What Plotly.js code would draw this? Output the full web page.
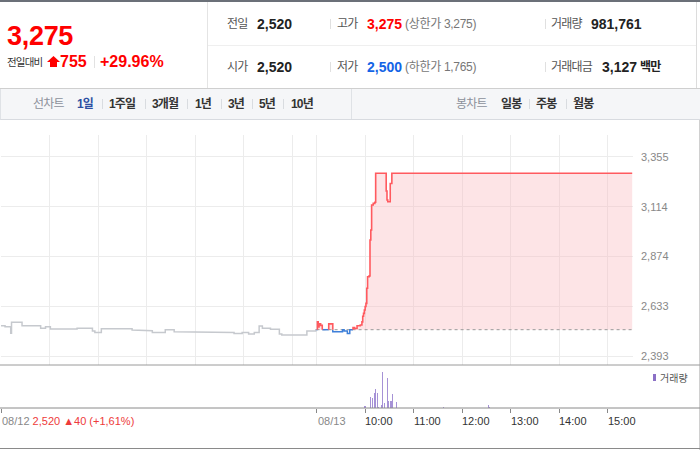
<!DOCTYPE html>
<html><head><meta charset="utf-8">
<script src="https://cdn.plot.ly/plotly-3.0.1.min.js"></script>
<style>
body{margin:0;background:#fff;}
#wrap{position:relative;width:700px;height:450px;overflow:hidden;font-family:'Liberation Sans','Noto Sans CJK KR',sans-serif;}
.t{position:absolute;white-space:nowrap;line-height:1;transform:translateY(-50%);}
.ln{position:absolute;}
.lb{font-size:12px;color:#555;letter-spacing:-0.8px;}
.v{font-size:14px;font-weight:bold;color:#222;}
.p{font-size:12px;color:#777;letter-spacing:-0.3px;}
.n{font-size:12px;font-weight:bold;color:#333;letter-spacing:-0.8px;}
.ng{font-size:12px;color:#8c919b;letter-spacing:-0.8px;}
.sep{position:absolute;width:1px;background:#d9dce0;}
#chart{position:absolute;left:0;top:120px;width:700px;height:330px;}
</style></head>
<body>
<div id="wrap">
  <!-- header frame -->
  <div class="ln" style="left:0;top:0;width:700px;height:2px;background:#6b7078"></div>
  <div class="ln" style="left:207px;top:2px;width:1px;height:86px;background:#e4e4e4"></div>
  <div class="ln" style="left:208px;top:45px;width:488px;height:1px;background:#efefef"></div>
  <div class="ln" style="left:696px;top:2px;width:1px;height:86px;background:#dcdcdc"></div>
  <div class="ln" style="left:0;top:88px;width:700px;height:1px;background:#cfcfcf"></div>

  <!-- price box -->
  <span class="t" style="left:7px;top:36px;font-size:27px;font-weight:bold;color:#f00;letter-spacing:-0.3px">3,275</span>
  <span class="t" style="left:7px;top:62px;font-size:10.5px;color:#333;letter-spacing:-0.8px">전일대비</span>
  <svg class="ln" style="left:47px;top:56px" width="13" height="11" viewBox="0 0 13 11"><polygon points="0,6 6.5,0 13,6" fill="#f00"/><rect x="3" y="6" width="7" height="5" fill="#f00"/></svg>
  <span class="t" style="left:60px;top:62px;font-size:16px;font-weight:bold;color:#f00">755</span>
  <div class="sep" style="left:94px;top:56px;height:12px;background:#e2e2e2"></div>
  <span class="t" style="left:100px;top:62px;font-size:16px;font-weight:bold;color:#f00">+29.96%</span>

  <!-- info table row 1 -->
  <span class="t lb" style="left:227px;top:24px">전일</span>
  <span class="t v" style="left:257px;top:24px">2,520</span>
  <div class="sep" style="left:330px;top:19px;height:10px;background:#e0e0e0"></div>
  <span class="t lb" style="left:337px;top:24px">고가</span>
  <span class="t v" style="left:367px;top:24px;color:#f00">3,275</span>
  <span class="t p" style="left:405px;top:24px">(상한가 3,275)</span>
  <div class="sep" style="left:545px;top:19px;height:10px;background:#e0e0e0"></div>
  <span class="t lb" style="left:551px;top:24px">거래량</span>
  <span class="t v" style="left:591px;top:24px">981,761</span>
  <!-- row 2 -->
  <span class="t lb" style="left:227px;top:67px">시가</span>
  <span class="t v" style="left:257px;top:67px">2,520</span>
  <div class="sep" style="left:330px;top:62px;height:10px;background:#e0e0e0"></div>
  <span class="t lb" style="left:337px;top:67px">저가</span>
  <span class="t v" style="left:367px;top:67px;color:#1464e6">2,500</span>
  <span class="t p" style="left:405px;top:67px">(하한가 1,765)</span>
  <div class="sep" style="left:545px;top:62px;height:10px;background:#e0e0e0"></div>
  <span class="t lb" style="left:551px;top:67px">거래대금</span>
  <span class="t v" style="left:602px;top:67px">3,127</span>
  <span class="t" style="left:640px;top:67px;font-size:12px;font-weight:bold;color:#222;letter-spacing:-0.8px">백만</span>

  <!-- nav bar -->
  <div class="ln" style="left:0;top:89px;width:699px;height:30px;background:#f5f6f8;border-left:1px solid #dfe2e6;border-bottom:1px solid #d8dbe0"></div>
  <div class="ln" style="left:351px;top:89px;width:1px;height:30px;background:#dfe2e6"></div>
  <span class="t ng" style="left:33px;top:104px">선차트</span>
  <span class="t n" style="left:77px;top:104px;color:#2d4fa3">1일</span>
  <div class="sep" style="left:102px;top:99px;height:10px"></div>
  <span class="t n" style="left:109px;top:104px">1주일</span>
  <div class="sep" style="left:145px;top:99px;height:10px"></div>
  <span class="t n" style="left:152px;top:104px">3개월</span>
  <div class="sep" style="left:187px;top:99px;height:10px"></div>
  <span class="t n" style="left:195px;top:104px">1년</span>
  <div class="sep" style="left:221px;top:99px;height:10px"></div>
  <span class="t n" style="left:228px;top:104px">3년</span>
  <div class="sep" style="left:252px;top:99px;height:10px"></div>
  <span class="t n" style="left:259px;top:104px">5년</span>
  <div class="sep" style="left:283px;top:99px;height:10px"></div>
  <span class="t n" style="left:291px;top:104px">10년</span>
  <span class="t ng" style="left:456px;top:104px">봉차트</span>
  <span class="t n" style="left:501px;top:104px">일봉</span>
  <div class="sep" style="left:529px;top:99px;height:10px"></div>
  <span class="t n" style="left:536px;top:104px">주봉</span>
  <div class="sep" style="left:566px;top:99px;height:10px"></div>
  <span class="t n" style="left:573px;top:104px">월봉</span>

  <!-- chart frame -->
  <div class="ln" style="left:699px;top:120px;width:1px;height:330px;background:#d0d0d0"></div>
  <div class="ln" style="left:0;top:448px;width:700px;height:1px;background:#8a8a8a"></div>

  <div id="chart"></div>
</div>
<script>
// ---- data ----
const basePrice = 2520; // previous close
const prevDayLabel = '08/12';
const todayLabel = '08/13';
const prevTimes = ['09:00','09:05','09:12','09:13','09:26','09:49','09:55','10:01','10:34','10:53','10:56','11:04','11:42','11:46','12:07','12:23','12:34','12:40','13:48','13:58','14:06','14:13','14:19','14:23','14:33','14:44','14:47','15:18','15:29','15:30'];
const prevPrices = [2539,2534,2503,2556,2539,2527,2534,2523,2527,2514,2507,2525,2518,2515,2507,2520,2510,2507,2502,2507,2499,2507,2538,2527,2522,2499,2494,2514,2520,2520];
const todayTimes = ['09:00','09:01','09:02','09:03','09:05','09:07','09:15','09:20','09:32','09:34','09:38','09:41','09:45','09:47','09:50','09:54','09:56','09:57','09:58','09:59','10:00','10:01','10:02','10:03','10:05','10:06','10:07','10:08','10:10','10:12','10:13','10:26','10:27','10:28','10:31','10:33','15:30'];
const todayPrices = [2520,2558,2533,2548,2541,2520,2548,2510,2520,2514,2502,2520,2531,2526,2539,2543,2558,2585,2599,2615,2632,2647,2720,2776,2780,2953,3001,3122,3130,3135,3275,3190,3146,3138,3226,3275,3275];
const volTimes = ['09:59','10:01','10:07','10:09','10:11','10:12','10:13','10:15','10:17','10:20','10:22','10:24','10:28','10:29','10:31','10:32','10:34','10:39','11:09','11:37','12:33','12:34'];
const volValues = [4500,5000,30000,27000,41000,25000,52000,42000,3000,8000,99000,13000,83000,20000,20000,20000,39000,16000,5500,2000,8000,3000];
const priceTicks = [2393,2633,2874,3114,3355];
const prevHourLabels = ['10:00','11:00','12:00','13:00','14:00','15:00'];
const todayHourLabels = ['10:00','11:00','12:00','13:00','14:00','15:00'];
const prevSummary = '2,520 ▲40 (+1,61%)';

// ---- helpers ----
const SESSION = 390;
function toMin(day, t){ const p = t.split(':').map(Number); return day*SESSION + (p[0]-9)*60 + p[1]; }
function hv(xs, ys){ const X=[],Y=[]; for(let i=0;i<xs.length;i++){ if(i>0){X.push(xs[i]);Y.push(ys[i-1]);} X.push(xs[i]);Y.push(ys[i]); } return {X,Y}; }
function split(X, Y, base){
  const r={x:[],y:[]}, b={x:[],y:[]}; let last=null;
  function add(tgt,key,x0,y0,x1,y1){
    if(last!==key){ if(tgt.x.length){tgt.x.push(null);tgt.y.push(null);} tgt.x.push(x0); tgt.y.push(y0); }
    tgt.x.push(x1); tgt.y.push(y1); last=key;
  }
  for(let i=0;i<X.length-1;i++){
    const y0=Y[i], y1=Y[i+1], x0=X[i], x1=X[i+1];
    if(y0>=base && y1>=base && (y0>base || y1>base)) add(r,'r',x0,y0,x1,y1);
    else if(y0<=base && y1<=base) add(b,'b',x0,y0,x1,y1);
    else {
      const t=(base-y0)/(y1-y0), xm=x0+t*(x1-x0);
      if(y0>base){ add(r,'r',x0,y0,xm,base); add(b,'b',xm,base,x1,y1); }
      else { add(b,'b',x0,y0,xm,base); add(r,'r',xm,base,x1,y1); }
    }
  }
  return {r,b};
}
const fmt = v => v.toLocaleString('en-US');

const prevX = prevTimes.map(t=>toMin(0,t));
const todayX = todayTimes.map(t=>toMin(1,t));
const prevPath = hv(prevX, prevPrices);
const todayPath = hv(todayX, todayPrices);
const parts = split(todayPath.X, todayPath.Y, basePrice);
const dayStart = toMin(1,'09:00'), dayEnd = toMin(1,'15:30');

const gridX = prevHourLabels.map(t=>toMin(0,t)).concat([dayStart], todayHourLabels.map(t=>toMin(1,t)));
const axisTickX = [toMin(0,'09:00'), dayStart].concat(todayHourLabels.map(t=>toMin(1,t)));

const traces = [
  {x:prevPath.X, y:prevPath.Y, type:'scatter', mode:'lines', line:{color:'#c6c9ce', width:1.5}, xaxis:'x', yaxis:'y', hoverinfo:'skip'},
  {x:[dayStart, dayEnd], y:[basePrice, basePrice], type:'scatter', mode:'lines', line:{width:0}, xaxis:'x', yaxis:'y', hoverinfo:'skip'},
  {x:todayPath.X, y:todayPath.Y.map(v=>Math.max(v,basePrice)), type:'scatter', mode:'lines', line:{width:0}, fill:'tonexty', fillcolor:'rgba(250,180,186,0.36)', xaxis:'x', yaxis:'y', hoverinfo:'skip'},
  {x:[dayStart, dayEnd], y:[basePrice, basePrice], type:'scatter', mode:'lines', line:{color:'#999', width:1, dash:'dot'}, xaxis:'x', yaxis:'y', hoverinfo:'skip'},
  {x:parts.b.x, y:parts.b.y, type:'scatter', mode:'lines', line:{color:'#3d7fd9', width:1.5}, connectgaps:false, xaxis:'x', yaxis:'y', hoverinfo:'skip'},
  {x:parts.r.x, y:parts.r.y, type:'scatter', mode:'lines', line:{color:'#ff5a5f', width:1.6}, connectgaps:false, xaxis:'x', yaxis:'y', hoverinfo:'skip'},
  {x:volTimes.map(t=>toMin(1,t)), y:volValues, type:'bar', width:1.2, marker:{color:'#a692d6', line:{width:0}}, xaxis:'x2', yaxis:'y2', hoverinfo:'skip'}
];

const PL = 1, PW = 632, PT = 15, PH = 273, VOLH = 43;
const volFrac = VOLH/PH;
const px2paperX = px => (px - PL)/PW;
const py2paperY = py => (PT + PH - (py - 120))/PH; // page y -> paper y
const xr = [0, 781];

const annotations = todayHourLabels.map(t=>({
  x: toMin(1,t), xref:'x', y: py2paperY(421), yref:'paper', text:t, showarrow:false,
  xanchor:'left', yanchor:'middle', xshift:-2, font:{size:11, color:'#333'}
}));
annotations.push({x:dayStart, xref:'x', y:py2paperY(421), yref:'paper', text:todayLabel, showarrow:false, xanchor:'left', yanchor:'middle', xshift:-1, font:{size:11,color:'#888'}});
annotations.push({x:0, xref:'paper', y:py2paperY(421), yref:'paper', text:prevDayLabel+' <span style="color:#ee3b3b">'+prevSummary+'</span>', showarrow:false, xanchor:'left', yanchor:'middle', xshift:-1, font:{size:11,color:'#888'}});
annotations.push({x:px2paperX(658), xref:'paper', y:py2paperY(378), yref:'paper', text:'거래량', showarrow:false, xanchor:'left', yanchor:'middle', font:{size:10,color:'#555'}});

const shapes = [
  {type:'line', xref:'paper', yref:'paper', x0:px2paperX(0), x1:px2paperX(700), y0:volFrac, y1:volFrac, line:{color:'#9a9a9a', width:1}},
  {type:'line', xref:'paper', yref:'paper', x0:px2paperX(0), x1:px2paperX(700), y0:0, y1:0, line:{color:'#8a8a8a', width:1}},
  {type:'rect', xref:'paper', yref:'paper', x0:px2paperX(653), x1:px2paperX(656), y0:py2paperY(381), y1:py2paperY(374), fillcolor:'#8b70c6', line:{width:0}}
];

const layout = {
  width:700, height:330, margin:{l:PL, r:700-PL-PW, t:PT, b:330-PT-PH, pad:0},
  paper_bgcolor:'rgba(0,0,0,0)', plot_bgcolor:'rgba(0,0,0,0)', showlegend:false,
  font:{family:'Liberation Sans, Noto Sans CJK KR, sans-serif'},
  xaxis:{domain:[0,1], range:xr, anchor:'y', tickvals:gridX, showticklabels:false, ticks:'', showgrid:true, gridcolor:'#ececec', gridwidth:1, zeroline:false, showline:false, fixedrange:true},
  yaxis:{domain:[volFrac,1], range:[2349.6,3460], side:'right', tickvals:priceTicks, ticktext:priceTicks.map(fmt), tickfont:{size:11,color:'#888'}, ticks:'', ticklabelstandoff:7, showgrid:true, gridcolor:'#ececec', zeroline:false, showline:false, fixedrange:true},
  xaxis2:{domain:[0,1], range:xr, anchor:'y2', tickvals:axisTickX, ticks:'outside', ticklen:4, tickwidth:1, tickcolor:'#888', showticklabels:false, showgrid:false, zeroline:false, showline:false, fixedrange:true},
  yaxis2:{domain:[0,volFrac], range:[0,119000], visible:false, fixedrange:true},
  shapes, annotations, bargap:0
};

Plotly.newPlot('chart', traces, layout, {staticPlot:true, displayModeBar:false});
</script>
</body></html>
